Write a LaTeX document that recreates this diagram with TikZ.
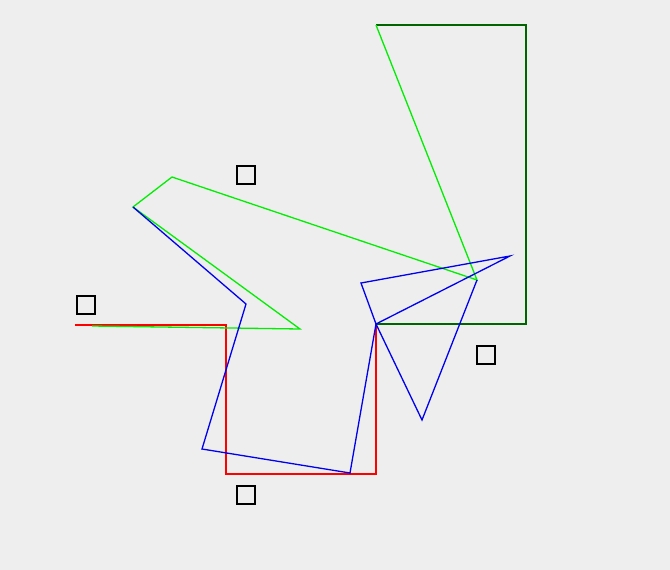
\documentclass[tikz,border=0pt]{standalone}
\usepackage{xcolor}
\definecolor{bgray}{RGB}{238,238,238}
\definecolor{darkgreen}{RGB}{0,100,0}
\definecolor{lightgreen}{RGB}{0,238,0}
\definecolor{pathred}{RGB}{255,0,0}
\definecolor{pathblue}{RGB}{0,0,238}
\begin{document}
\begin{tikzpicture}[
    x=1pt, y=-1pt,
    trail/.style={line width=1.3pt, line join=miter},
    marker/.style={rectangle, draw=black, line width=2pt, minimum size=18pt, inner sep=0pt, fill=none},
]
    % Background
    \fill[bgray] (0,0) rectangle (670,570);
    \useasboundingbox (0,0) rectangle (670,570);

    % Markers
    \node[marker] (m1) at (246,175) {};
    \node[marker] (m2) at (86,305) {};
    \node[marker] (m3) at (486,355) {};
    \node[marker] (m4) at (246,495) {};

    % Vertices
    \coordinate (hub) at (376,324);
    \coordinate (tip) at (477,280);
    \coordinate (wing) at (133,207);

    % Red trail
    \draw[trail, pathred] (75,325) -- (226,325) -- (226,474) -- (376,474) -- (hub);

    % Dark green trail
    \draw[trail, darkgreen] (hub) -- (526,324) -- (526,25) -- (376,25);

    % Light green trail
    \draw[trail, lightgreen] (376,25) -- (tip) -- (172,177) -- (wing) -- (300,329) -- (92,326);

    % Blue trail
    \draw[trail, pathblue] (wing) -- (246,304) -- (202,449) -- (350,473) -- (hub)
        -- (361,283) -- (510,256) -- (hub) -- (422,420) -- (tip);
\end{tikzpicture}
\end{document}
